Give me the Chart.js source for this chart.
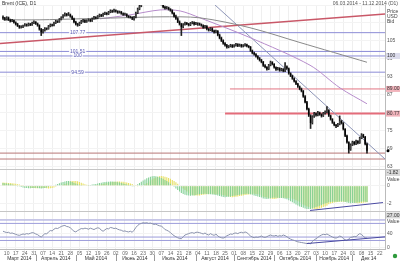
<!DOCTYPE html>
<html>
<head>
<meta charset="utf-8">
<script src="https://cdn.jsdelivr.net/npm/chart.js@4.4.1/dist/chart.umd.min.js"></script>
<style>
  html, body { margin: 0; padding: 0; background: #fff; }
  #wrap { width: 400px; height: 261px; position: relative; }
</style>
</head>
<body>
<div id="wrap"><canvas id="c"></canvas></div>
<script>
"use strict";

// daily bars, 06.03.2014 .. 11.12.2014 (one entry per trading day)
const open = [
  112.9,112.6,112.2,112.8,112.0,111.6,111.9,111.2,110.6,110.0,
  109.5,109.8,110.1,110.5,110.2,110.7,110.4,111.0,111.3,110.8,
  110.2,108.9,107.9,108.6,109.2,109.0,109.9,110.4,110.2,111.0,
  111.6,111.4,112.2,112.8,113.5,114.0,113.6,113.8,113.2,112.4,
  111.3,110.6,110.3,111.0,111.6,111.9,111.4,111.8,112.1,111.7,
  112.4,112.9,112.6,113.2,113.7,113.4,114.0,114.3,114.0,114.6,
  115.0,114.8,115.2,114.9,114.5,114.7,114.2,113.8,113.9,113.3,
  113.0,112.9,112.5,112.9,114.3,115.6,116.6,117.4,118.0,117.8,
  118.6,118.3,118.9,118.5,118.1,118.4,117.9,117.6,117.3,116.3,
  115.9,116.1,115.6,115.2,114.3,113.2,112.5,111.4,110.6,109.6,
  110.5,111.0,110.7,110.3,110.9,111.2,110.6,110.9,110.8,110.5,
  110.2,109.5,109.9,109.0,108.6,109.2,108.4,107.9,108.3,107.0,
  106.0,105.1,104.2,103.6,103.0,103.2,103.6,103.1,103.5,103.9,
  103.4,103.7,103.2,103.5,103.8,103.3,103.0,101.8,101.0,100.6,
  99.9,99.2,98.6,98.0,96.8,96.3,95.6,96.9,97.9,97.3,
  96.2,95.5,95.9,95.2,95.6,95.0,96.5,95.8,94.2,93.4,
  92.5,91.6,90.7,89.8,89.0,88.3,86.5,84.6,82.3,80.1,
  77.6,79.8,80.8,80.2,81.1,80.5,80.0,80.9,81.3,81.9,
  80.1,78.9,77.8,77.0,76.6,77.2,78.3,77.6,75.6,73.4,
  71.2,68.8,70.4,71.3,70.6,71.6,71.0,72.6,73.7,73.0,
  70.6
];
const high = [
  113.4,112.9,113.1,113.0,112.3,112.2,112.0,111.4,110.9,110.2,
  110.1,110.3,110.8,110.7,111.0,110.9,111.3,111.7,111.5,111.0,
  110.4,109.2,108.9,109.5,109.4,110.2,110.7,110.6,111.3,111.9,
  111.8,112.5,113.1,113.8,114.4,114.2,114.5,114.0,113.4,112.6,
  111.6,110.9,111.3,111.9,112.2,112.1,112.1,112.4,112.3,112.7,
  113.2,113.1,113.5,114.0,113.9,114.3,114.6,114.5,114.9,115.4,
  115.3,115.6,115.4,115.1,115.0,114.9,114.4,114.3,114.1,113.5,
  113.3,113.1,113.2,114.6,116.0,117.0,117.8,118.4,118.3,119.0,
  118.9,119.3,119.1,118.7,118.8,118.6,118.1,117.9,117.5,116.6,
  116.5,116.3,115.8,115.4,114.5,113.6,112.8,111.7,110.9,110.8,
  111.3,111.2,110.9,111.2,111.5,111.4,111.2,111.1,111.0,110.7,
  110.4,110.2,110.1,109.2,109.5,109.4,108.6,108.6,108.5,107.3,
  106.3,105.4,104.5,103.9,103.5,103.9,103.8,103.8,104.2,104.1,
  104.0,103.9,103.8,104.1,104.0,103.5,103.2,102.0,101.3,100.8,
  100.1,99.5,98.9,98.2,97.1,96.5,97.2,98.3,98.1,97.5,
  96.4,96.2,96.1,95.9,95.8,97.8,96.7,96.0,94.4,93.6,
  92.7,91.8,90.9,90.0,89.3,88.5,86.8,84.9,82.6,80.4,
  80.1,81.2,81.0,81.5,81.3,80.7,81.2,81.7,83.1,82.1,
  80.3,79.1,78.0,77.2,77.5,80.0,78.5,77.8,75.8,73.6,
  71.4,70.7,71.6,71.5,71.9,71.8,72.9,74.1,73.9,73.2,
  70.9
];
const low = [
  112.2,111.9,112.0,111.8,111.3,111.4,110.9,110.3,109.8,109.2,
  109.3,109.4,109.9,109.9,110.0,110.1,110.2,110.8,110.5,109.9,
  108.6,106.8,107.6,108.3,108.7,108.9,109.7,109.9,110.0,110.8,
  111.1,111.2,112.0,112.6,113.3,113.3,113.5,112.9,112.1,111.0,
  110.3,109.9,110.1,110.8,111.3,111.1,111.2,111.6,111.4,111.5,
  112.2,112.3,112.4,113.0,113.1,113.2,113.8,113.7,113.8,114.4,
  114.5,114.6,114.6,114.2,114.3,113.9,113.5,113.6,113.0,112.7,
  112.6,112.1,111.9,112.7,114.1,115.4,116.4,117.2,117.4,117.6,
  117.9,118.1,118.2,117.8,117.9,117.6,117.3,117.0,116.0,115.6,
  115.7,115.3,114.9,114.0,112.9,112.2,111.1,110.3,106.8,109.4,
  110.3,110.4,110.0,110.1,110.7,110.3,110.4,110.2,110.2,109.9,
  109.2,109.3,108.7,108.3,108.4,108.1,107.6,107.7,106.7,105.7,
  104.8,103.9,103.3,102.6,102.7,103.0,102.8,102.9,103.3,103.1,
  103.2,102.9,103.0,103.3,103.0,102.7,101.5,100.7,100.3,99.6,
  98.9,98.3,97.7,96.5,96.0,95.3,95.4,96.7,97.0,95.9,
  95.2,95.3,94.9,95.0,94.7,94.8,95.5,93.9,93.1,92.2,
  91.3,90.4,89.5,88.7,88.0,86.2,84.3,82.0,79.8,75.8,
  77.3,79.5,79.9,80.0,80.2,79.6,79.8,80.6,81.0,79.8,
  78.6,77.5,76.7,76.1,76.4,77.0,77.3,75.3,73.1,70.9,
  67.6,68.5,70.1,70.3,70.4,70.7,70.8,72.4,72.7,70.3,
  67.6
];
const close = [
  112.6,112.2,112.8,112.0,111.6,111.9,111.2,110.6,110.0,109.5,
  109.8,110.1,110.5,110.2,110.7,110.4,111.0,111.3,110.8,110.2,
  108.9,107.9,108.6,109.2,109.0,109.9,110.4,110.2,111.0,111.6,
  111.4,112.2,112.8,113.5,114.0,113.6,113.8,113.2,112.4,111.3,
  110.6,110.3,111.0,111.6,111.9,111.4,111.8,112.1,111.7,112.4,
  112.9,112.6,113.2,113.7,113.4,114.0,114.3,114.0,114.6,115.0,
  114.8,115.2,114.9,114.5,114.7,114.2,113.8,113.9,113.3,113.0,
  112.9,112.5,112.9,114.3,115.6,116.6,117.4,118.0,117.8,118.6,
  118.3,118.9,118.5,118.1,118.4,117.9,117.6,117.3,116.3,115.9,
  116.1,115.6,115.2,114.3,113.2,112.5,111.4,110.6,109.6,110.5,
  111.0,110.7,110.3,110.9,111.2,110.6,110.9,110.8,110.5,110.2,
  109.5,109.9,109.0,108.6,109.2,108.4,107.9,108.3,107.0,106.0,
  105.1,104.2,103.6,103.0,103.2,103.6,103.1,103.5,103.9,103.4,
  103.7,103.2,103.5,103.8,103.3,103.0,101.8,101.0,100.6,99.9,
  99.2,98.6,98.0,96.8,96.3,95.6,96.9,97.9,97.3,96.2,
  95.5,95.9,95.2,95.6,95.0,96.5,95.8,94.2,93.4,92.5,
  91.6,90.7,89.8,89.0,88.3,86.5,84.6,82.3,80.1,77.6,
  79.8,80.8,80.2,81.1,80.5,80.0,80.9,81.3,81.9,80.1,
  78.9,77.8,77.0,76.6,77.2,78.3,77.6,75.6,73.4,71.2,
  68.8,70.4,71.3,70.6,71.6,71.0,72.6,73.7,73.0,70.6,
  68.4
];

// MACD histogram (green) and its signal (yellow)
const macd = [
  0.30,0.28,0.25,0.22,0.18,0.13,0.08,0.03,-0.03,-0.09,-0.15,-0.20,-0.24,-0.26,-0.27,-0.27,-0.26,-0.24,
  -0.22,-0.24,-0.28,-0.30,-0.28,-0.24,-0.18,-0.12,-0.06,0.00,0.06,0.12,0.20,0.28,0.36,0.43,0.49,0.53,
  0.54,0.50,0.43,0.35,0.26,0.18,0.12,0.08,0.06,0.05,0.06,0.08,0.10,0.13,0.17,0.21,0.26,0.31,
  0.35,0.39,0.42,0.44,0.46,0.47,0.47,0.46,0.44,0.41,0.37,0.32,0.26,0.20,0.14,0.08,0.03,-0.02,
  -0.02,0.06,0.18,0.32,0.46,0.60,0.72,0.84,0.94,1.02,1.08,1.10,1.08,1.03,0.96,0.88,0.78,0.66,
  0.54,0.40,0.24,0.06,-0.12,-0.30,-0.48,-0.64,-0.80,-0.92,-1.00,-1.06,-1.10,-1.12,-1.10,-1.08,-1.05,
  -0.98,-0.95,-0.93,-0.92,-0.91,-0.92,-0.94,-0.95,-0.97,-1.00,-1.04,-1.10,-1.16,-1.22,-1.26,-1.28,-1.27,-1.24,
  -1.20,-1.16,-1.12,-1.08,-1.04,-1.00,-0.97,-0.94,-0.92,-0.91,-0.92,-0.96,-1.02,-1.08,-1.14,-1.20,-1.26,-1.32,
  -1.42,-1.46,-1.48,-1.46,-1.40,-1.36,-1.34,-1.35,-1.36,-1.37,-1.38,-1.40,-1.45,-1.52,-1.62,-1.74,-1.86,-1.98,
  -2.10,-2.22,-2.32,-2.40,-2.48,-2.55,-2.60,-2.62,-2.60,-2.55,-2.48,-2.40,-2.32,-2.24,-2.16,-2.08,-2.00,-1.93,
  -1.84,-1.82,-1.81,-1.80,-1.80,-1.79,-1.77,-1.76,-1.78,-1.82,-1.88,-1.94,-1.96,-1.95,-1.93,-1.90,-1.87,-1.84,
  -1.80,-1.78,-1.79,-1.82
];
const signal = [
  0.36,0.35,0.33,0.31,
  0.30,0.28,0.25,0.22,0.18,0.13,0.08,0.03,-0.03,-0.09,-0.15,-0.20,-0.24,-0.26,-0.27,-0.27,
  -0.26,-0.24,-0.22,-0.24,-0.28,-0.30,-0.28,-0.24,-0.18,-0.12,-0.06,0.00,0.06,0.12,0.20,0.28,
  0.43,0.49,0.53,0.55,0.54,0.50,0.43,0.35,0.26,0.18,0.12,0.08,0.06,0.05,0.06,0.08,0.10,0.13,
  0.17,0.21,0.26,0.31,0.35,0.39,0.42,0.44,0.46,0.47,0.47,0.46,0.44,0.41,0.37,0.32,0.26,0.20,
  0.08,0.03,-0.02,-0.04,-0.02,0.06,0.18,0.32,0.46,0.60,0.72,0.84,0.94,1.02,1.08,1.10,1.08,1.03,
  0.96,0.88,0.78,0.66,0.54,0.40,0.24,0.06,-0.12,-0.30,-0.48,-0.64,-0.80,-0.92,-1.00,-1.06,-1.10,
  -1.10,-1.08,-1.05,-1.02,-0.98,-0.95,-0.93,-0.92,-0.91,-0.92,-0.94,-0.95,-0.97,-1.00,-1.04,-1.10,-1.16,-1.22,
  -1.26,-1.28,-1.27,-1.24,-1.20,-1.16,-1.12,-1.08,-1.04,-1.00,-0.97,-0.94,-0.92,-0.91,-0.92,-0.96,-1.02,-1.08,
  -1.20,-1.26,-1.32,-1.38,-1.42,-1.46,-1.48,-1.46,-1.40,-1.36,-1.34,-1.35,-1.36,-1.37,-1.38,-1.40,-1.45,-1.52,
  -1.62,-1.74,-1.86,-1.98,-2.10,-2.22,-2.32,-2.40,-2.48,-2.55,-2.60,-2.62,-2.60,-2.55,-2.48,-2.40,-2.32,-2.24,
  -2.08,-2.00,-1.93,-1.88,-1.84,-1.82,-1.81,-1.80,-1.80,-1.79,-1.77,-1.76,-1.78,-1.82,-1.88,-1.94,-1.96,-1.95,
  -1.93,-1.90,-1.87,-1.84
];

// oscillator (RSI-like) in the lowest pane
const rsi = [
  47,45,43,44,41,42,40,38,36,35,37,39,38,40,39,41,43,42,39,37,33,30,
  35,40,39,45,49,48,53,56,55,58,61,63,64,61,60,57,
  52,47,45,49,52,55,54,56,55,53,56,54,52,55,57,56,
  50,47,51,55,54,58,57,55,56,53,51,50,47,48,46,45,47,44,
  50,58,64,68,70,72,71,72,70,71,69,67,68,65,63,62,58,52,50,47,
  43,38,34,31,28,26,25,31,36,38,40,42,43,41,44,44,43,
  41,39,42,38,36,40,37,35,39,33,30,28,27,29,34,36,39,38,41,42,40,43,44,42,45,43,
  38,33,30,28,30,29,31,33,30,29,31,34,36,34,33,35,32,34,33,36,34,31,27,24,
  22,20,18,16,15,14,13,12,11,12,10,17,22,25,29,33,36,38,37,39,
  36,33,30,28,27,29,33,31,26,22,19,25,29,30,32,31,36,40,38,32,28,27
];

// moving averages [index, price]
const slowMA = [[0,112.06],[20.3,112.06],[42.3,112.39],[64.3,112.72],[86.3,113.05],[108.2,112.72],[135.7,109.42],[163.2,104.48],[200,97.9]];
const fastMA = [[53.3,112.39],[69.8,113.71],[86.3,115.35],[97.3,115.02],[108.2,112.72],[135.7,106.13],[168.7,96.91],[185.2,89.33],[200,84.06]];

// drawn lines
const riseLine = [[-1.65,104.15],[209.9,114.04]];
const fallLine = [[116.5,117.0],[209.9,65.62]];
const blueLevels = [107.77, 101.51, 100.00, 94.59];
const blueLabels = ["107.77", "101.51", "100", "94.59"];
const redLevels = [89.00, 80.77];
const redFrom = [124.7, 122.0];
const lowLevels = [67.60, 65.62];
const macdTrend = [[168.7,-2.78],[208.8,-1.89]];
const rsiTrend = [[167,11],[209.9,30.6]];
const rsiLevels = [80, 70, 30, 20];

// axis labels
const weekIdx = [2,7,12,17,22,27,32,37,42,47,52,57,62,67,72,77,82,87,92,97,102,107,112,117,122,127,132,137,142,147,152,157,162,167,172,177,182,187,192,197,202,207];
const weekLabels = ["10","17","24","31","07","14","21","28","05","12","19","26","02","09","16","23","30","07","14","21","28","04","11","18","25","01","08","15","22","29","06","13","20","27","03","10","17","24","01","08","15","22"];
const monthStart = [0,18,40,62,83,106,127,149,172,192];
const monthNames = ["Март 2014","Апрель 2014","Май 2014","Июнь 2014","Июль 2014","Август 2014","Сентябрь 2014","Октябрь 2014","Ноябрь 2014","Дек 14"];

const FONT = "'Liberation Sans', Arial, sans-serif";
const X_MIN = -1.65, X_MAX = 209.9;

const pts = arr => arr.map(p => ({ x: p[0], y: p[1] }));
const hline = (v, from) => [{ x: from === undefined ? X_MIN : from, y: v }, { x: X_MAX, y: v }];

function lineSet(data, axis, color, width, order, tension) {
  return {
    type: "line", data: data, yAxisID: axis, borderColor: color, borderWidth: width,
    pointRadius: 0, fill: false, tension: tension || 0, order: order
  };
}

const datasets = [];
blueLevels.forEach(v => datasets.push(lineSet(hline(v), "yP", "#8c8cd6", 1, 9)));
datasets.push(lineSet(hline(redLevels[0], redFrom[0]), "yP", "#e27482", 1, 9));
datasets.push(lineSet(hline(redLevels[1], redFrom[1]), "yP", "#e46c7a", 2, 9));
lowLevels.forEach(v => datasets.push(lineSet(hline(v), "yP", "#b87878", 1, 9)));
datasets.push(lineSet(pts(riseLine), "yP", "#c95868", 1.5, 8));
datasets.push(lineSet(pts(fallLine), "yP", "#8e96b8", 1, 8));
datasets.push(lineSet(pts(slowMA), "yP", "#8a8a8a", 1, 7, 0.3));
datasets.push(lineSet(pts(fastMA), "yP", "#b68ccb", 1, 7, 0.3));

datasets.push({
  type: "bar", yAxisID: "yP", order: 2, grouped: false,
  data: high.map((h, i) => ({ x: i, y: [low[i], h] })),
  backgroundColor: "#222", barThickness: 1
});
datasets.push({
  type: "bar", yAxisID: "yP", order: 1, grouped: false,
  data: open.map((o, i) => ({ x: i, y: [o, close[i]] })),
  backgroundColor: open.map((o, i) => close[i] >= o ? "#444" : "#000"),
  barPercentage: 0.75, categoryPercentage: 1
});

datasets.push({
  type: "bar", yAxisID: "yM", order: 4, grouped: false,
  data: signal.map((v, i) => ({ x: i, y: v })),
  backgroundColor: "#e6df62", barPercentage: 0.6, categoryPercentage: 1
});
datasets.push({
  type: "bar", yAxisID: "yM", order: 3, grouped: false,
  data: macd.map((v, i) => ({ x: i, y: v })),
  backgroundColor: "#86d198", barPercentage: 0.6, categoryPercentage: 1
});
datasets.push(lineSet(pts(macdTrend), "yM", "#4a4aa2", 1, 0));

rsiLevels.forEach(v => datasets.push(lineSet(hline(v), "yO", "#9c9cda", 1, 9)));
datasets.push(lineSet(rsi.map((v, i) => ({ x: i, y: v })), "yO", "#8a92ac", 1, 5));
datasets.push(lineSet(pts(rsiTrend), "yO", "#4a4aa2", 1, 0));

const tickFont = { size: 5, family: FONT };

const decor = {
  id: "decor",
  afterDraw(chart) {
    const ctx = chart.ctx, a = chart.chartArea;
    const { x, yP, yM, yO } = chart.scales;
    ctx.save();
    ctx.font = "5px " + FONT;
    ctx.textBaseline = "middle";

    // pane separators
    ctx.strokeStyle = "#c6c6c6";
    ctx.lineWidth = 1;
    [yM.top, yO.top].forEach(t => {
      const yy = Math.round(t) + 0.5;
      ctx.beginPath(); ctx.moveTo(0, yy); ctx.lineTo(chart.width, yy); ctx.stroke();
    });

    // month row under the day numbers
    ctx.fillStyle = "#333";
    ctx.textAlign = "center";
    monthStart.forEach((s, k) => {
      const x0 = Math.max(x.getPixelForValue(s), a.left);
      const x1 = k + 1 < monthStart.length ? x.getPixelForValue(monthStart[k + 1]) : a.right;
      ctx.fillText(monthNames[k], (x0 + x1) / 2, a.bottom + 9.5);
      if (k > 0) {
        const xx = Math.round(x0) + 0.5;
        ctx.strokeStyle = "#999";
        ctx.beginPath(); ctx.moveTo(xx, a.bottom + 6); ctx.lineTo(xx, chart.height); ctx.stroke();
      }
    });

    // labels on the blue levels
    const lx = x.getPixelForValue(41);
    blueLevels.forEach((v, k) => {
      const yy = yP.getPixelForValue(v);
      const w = ctx.measureText(blueLabels[k]).width;
      ctx.fillStyle = "rgba(255,255,255,0.85)";
      ctx.fillRect(lx - w / 2 - 1, yy - 2.5, w + 2, 5);
      ctx.fillStyle = "#5a5ab4";
      ctx.fillText(blueLabels[k], lx, yy);
    });

    // header texts
    ctx.fillStyle = "#333";
    ctx.textAlign = "left";
    ctx.fillText("Brent (ICE), D1", 2, 4);
    ctx.textAlign = "right";
    ctx.fillStyle = "#555";
    ctx.fillText("06.03.2014 - 11.12.2014 (D1)", 398, 3.5);
    ctx.textAlign = "left";
    ctx.fillStyle = "#444";
    ctx.fillText("Price", a.right + 2, 12);
    ctx.fillText("USD", a.right + 2, 17);
    ctx.fillText("Bid", a.right + 2, 22);

    // value tags on the price axis
    const tag = (yy, text, fill, color) => {
      ctx.fillStyle = fill;
      ctx.fillRect(a.right + 1, yy - 3, 14, 6);
      ctx.fillStyle = color;
      ctx.fillText(text, a.right + 2, yy);
    };
    tag(yP.getPixelForValue(100), "100", "#dcdcec", "#333");
    tag(yP.getPixelForValue(redLevels[0]), redLevels[0].toFixed(2), "#f2b4bc", "#333");
    tag(yP.getPixelForValue(redLevels[1]), redLevels[1].toFixed(2), "#f2b4bc", "#333");

    // last price marker
    ctx.fillStyle = "#000";
    ctx.beginPath();
    ctx.arc(a.right + 3, yP.getPixelForValue(close[close.length - 1]), 1.5, 0, Math.PI * 2);
    ctx.fill();

    // indicator pane captions
    tag(yM.top + 4, macd[macd.length - 1].toFixed(2), "#d8d8d8", "#333");
    ctx.fillStyle = "#444";
    ctx.fillText("Value", a.right + 2, yM.top + 11);
    tag(yO.top + 4, rsi[rsi.length - 1].toFixed(2), "#d8d8d8", "#333");
    ctx.fillStyle = "#444";
    ctx.fillText("Value", a.right + 2, yO.top + 10);

    // status dot
    ctx.fillStyle = "#2e9a3c";
    ctx.beginPath(); ctx.arc(395, 256, 2.2, 0, Math.PI * 2); ctx.fill();
    ctx.restore();
  }
};

new Chart(document.getElementById("c"), {
  type: "bar",
  data: { datasets: datasets },
  options: {
    responsive: true,
    maintainAspectRatio: false,
    animation: false,
    layout: { padding: { top: 2, left: 0, right: 0, bottom: 0 } },
    plugins: { legend: { display: false }, tooltip: { enabled: false } },
    scales: {
      x: {
        type: "linear", min: X_MIN, max: X_MAX, offset: false, position: "bottom",
        afterBuildTicks: ax => { ax.ticks = weekIdx.map(v => ({ value: v })); },
        ticks: { autoSkip: false, maxRotation: 0, font: tickFont, color: "#666", padding: 0,
                 callback: (v, i) => weekLabels[i] },
        grid: { color: "#efefef", tickLength: 2, offset: false },
        border: { color: "#bbb" },
        afterFit: ax => { ax.height = 12; }
      },
      yP: {
        type: "linear", position: "right", stack: "panes", stackWeight: 166,
        min: 62.3, max: 117, beginAtZero: false,
        ticks: { stepSize: 3, includeBounds: false, font: tickFont, color: "#555", padding: 2,
                 callback: v => v > 109 ? "" : v },
        grid: { color: "#f3f3f3", drawTicks: false },
        border: { color: "#bbb" },
        afterFit: ax => { ax.width = 15; }
      },
      yM: {
        type: "linear", position: "right", stack: "panes", stackWeight: 43,
        min: -2.89, max: 1.89, beginAtZero: false,
        ticks: { stepSize: 1, includeBounds: false, font: tickFont, color: "#555", padding: 2,
                 callback: v => v > 0 ? "" : v },
        grid: { color: "#f3f3f3", drawTicks: false },
        border: { color: "#bbb" },
        afterFit: ax => { ax.width = 15; }
      },
      yO: {
        type: "linear", position: "right", stack: "panes", stackWeight: 38,
        min: -5, max: 105, beginAtZero: false,
        ticks: { stepSize: 20, includeBounds: false, font: tickFont, color: "#555", padding: 2,
                 callback: v => v > 60 ? "" : v },
        grid: { color: "#f3f3f3", drawTicks: false },
        border: { color: "#bbb" },
        afterFit: ax => { ax.width = 15; }
      }
    }
  },
  plugins: [decor]
});
</script>
</body>
</html>
